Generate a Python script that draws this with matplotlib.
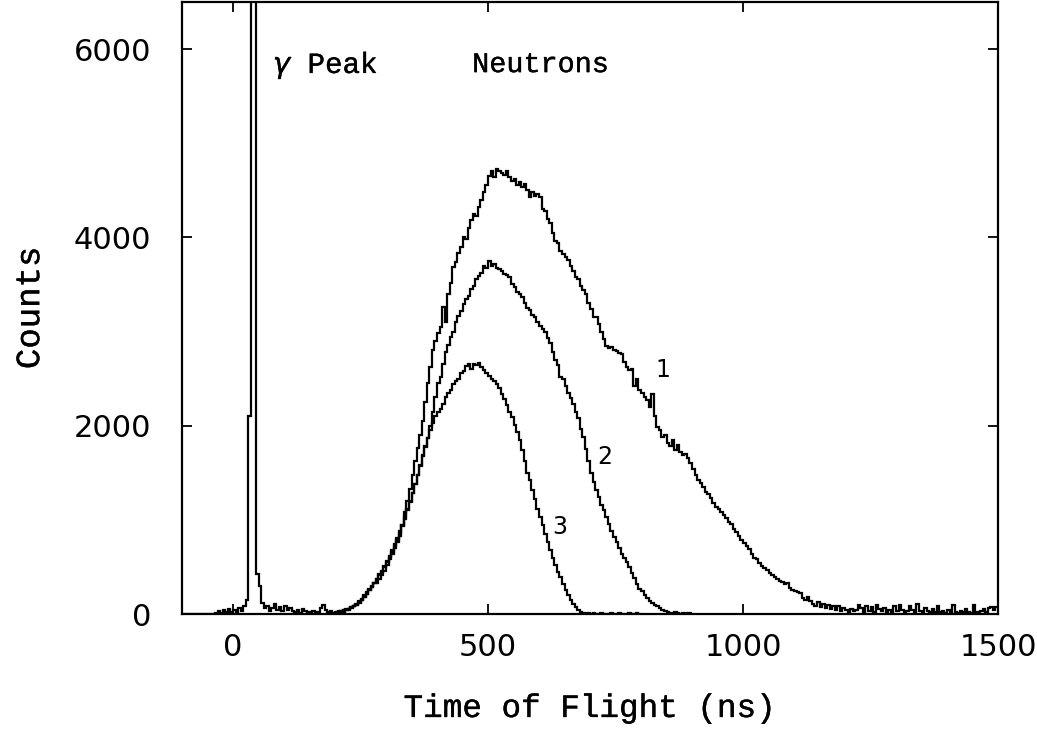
import numpy as np
import matplotlib
matplotlib.use("Agg")
import matplotlib.pyplot as plt
import matplotlib.patheffects as pe

# ---------------- data (counts per 5 ns bin) ----------------
# spectrum 1 : full range -100 .. 1500 ns
t1_start, t1_stop, bin_ns = -100, 1500, 5
counts1 = [
    # -100 .. 0
    0, 0, 0, 0, 0, 0, 0, 0, 0, 0, 0, 0, 0, 15, 30, 10, 45, 20, 50, 25,
    # 0 .. 100  (gamma peak at ~35-45 ns, off scale)
    40, 20, 60, 30, 80, 150, 2100, 20000, 20000, 430, 300, 120, 60, 90, 30, 60, 110, 40, 70, 30,
    # 100 .. 200
    80, 40, 60, 30, 20, 40, 15, 50, 30, 20, 10, 30, 15, 20, 60, 100, 40, 20, 30, 15,
    # 200 .. 300
    20, 30, 25, 40, 50, 45, 70, 90, 110, 140, 160, 200, 230, 270, 300, 330, 330, 370, 410, 460,
    # 300 .. 400
    520, 580, 640, 700, 760, 830, 950, 1080, 1200, 1330, 1480, 1620, 1760, 1900, 2050, 2250, 2450, 2620, 2800, 2900,
    # 400 .. 500
    2980, 3050, 3260, 3100, 3400, 3520, 3690, 3740, 3830, 3900, 4000, 3980, 4100, 4180, 4250, 4230, 4320, 4400, 4480, 4560,
    # 500 .. 600
    4650, 4700, 4640, 4730, 4700, 4680, 4660, 4700, 4640, 4600, 4620, 4560, 4590, 4540, 4570, 4500, 4430, 4480, 4440, 4460,
    # 600 .. 700
    4430, 4300, 4280, 4200, 4150, 4050, 3960, 3940, 3860, 3820, 3790, 3760, 3700, 3640, 3580, 3560, 3480, 3440, 3400, 3300,
    # 700 .. 800
    3240, 3150, 3150, 3080, 3000, 2920, 2850, 2820, 2840, 2800, 2790, 2770, 2760, 2680, 2620, 2590, 2600, 2420, 2500, 2380,
    # 800 .. 900
    2350, 2300, 2270, 2200, 2340, 2100, 1990, 1950, 1880, 1900, 1820, 1780, 1850, 1740, 1800, 1720, 1690, 1700, 1660, 1600,
    # 900 .. 1000
    1540, 1480, 1420, 1390, 1350, 1300, 1270, 1230, 1180, 1140, 1120, 1080, 1050, 1020, 980, 960, 900, 870, 830, 790,
    # 1000 .. 1100
    750, 720, 690, 640, 600, 580, 540, 510, 490, 470, 440, 410, 390, 370, 350, 340, 320, 330, 280, 260,
    # 1100 .. 1200
    240, 230, 220, 170, 150, 180, 140, 110, 90, 130, 70, 110, 60, 100, 50, 80, 40, 90, 30, 60,
    # 1200 .. 1300
    40, 20, 50, 30, 40, 100, 60, 20, 90, 30, 70, 20, 100, 50, 30, 60, 20, 40, 20, 80,
    # 1300 .. 1400
    30, 100, 40, 20, 30, 90, 40, 20, 110, 30, 20, 60, 30, 20, 50, 20, 80, 20, 30, 10,
    # 1400 .. 1500
    40, 20, 100, 20, 10, 30, 20, 50, 20, 10, 100, 20, 10, 30, 50, 20, 60, 70, 40, 70,
]

# spectrum 2 : 200 .. 900 ns
t2_start, t2_stop = 200, 900
counts2 = [
    15, 20, 30, 25, 40, 50, 60, 80, 100, 120, 150, 180, 210, 250, 290, 330, 370, 410, 450, 500,
    550, 610, 660, 720, 790, 860, 930, 1010, 1100, 1190, 1280, 1380, 1480, 1580, 1690, 1780, 1870, 2000, 2150, 2300,
    2450, 2520, 2650, 2780, 2860, 2940, 3000, 3100, 3160, 3220, 3290, 3350, 3380, 3450, 3480, 3560, 3590, 3620, 3700, 3680,
    3750, 3700, 3720, 3680, 3660, 3640, 3610, 3600, 3580, 3500, 3470, 3420, 3400, 3370, 3300, 3250, 3230, 3180, 3150, 3100,
    3060, 3030, 3000, 2930, 2880, 2780, 2700, 2640, 2520, 2500, 2420, 2350, 2290, 2230, 2150, 2080, 1970, 1880, 1750, 1620,
    1500, 1400, 1320, 1240, 1160, 1100, 1030, 960, 880, 820, 760, 700, 640, 590, 550, 500, 440, 380, 320, 270,
    240, 200, 170, 140, 120, 100, 80, 60, 40, 30, 20, 15, 10, 20, 10, 5, 15, 10, 5, 10,
]

# spectrum 3 : 200 .. 800 ns
t3_start, t3_stop = 200, 800
counts3 = [
    20, 25, 30, 40, 45, 55, 70, 85, 100, 125, 150, 180, 210, 250, 290, 330, 370, 420, 460, 510,
    560, 620, 680, 740, 810, 880, 950, 1030, 1110, 1200, 1290, 1380, 1480, 1570, 1680, 1770, 1870, 1950, 2030, 2100,
    2150, 2180, 2230, 2300, 2350, 2380, 2440, 2470, 2500, 2560, 2580, 2630, 2650, 2600, 2660, 2640, 2670, 2620, 2590, 2560,
    2530, 2500, 2470, 2440, 2400, 2340, 2280, 2220, 2150, 2090, 2010, 1930, 1850, 1740, 1620, 1500, 1420, 1320, 1220, 1120,
    1030, 940, 850, 760, 680, 600, 520, 450, 390, 320, 260, 200, 150, 110, 70, 40, 20, 10, 5, 10,
    5, 10, 0, 5, 10, 5, 0, 5, 10, 5, 0, 10, 5, 0, 5, 10, 0, 5, 10, 0,
]

curve_labels = ["1", "2", "3"]
curve_label_xy = [(843, 2590), (729, 1667), (641, 924)]
x_ticks = [0, 500, 1000, 1500]
y_ticks = [0, 2000, 4000, 6000]

# ---------------- figure ----------------
fig = plt.figure(figsize=(10.37, 7.29), dpi=100)
ax = fig.add_axes([182 / 1037, 1 - 614 / 729, (998 - 182) / 1037, (614 - 2) / 729])

for start, stop, vals in [(t1_start, t1_stop, counts1),
                          (t2_start, t2_stop, counts2),
                          (t3_start, t3_stop, counts3)]:
    edges = np.arange(start, stop + bin_ns, bin_ns)
    ax.stairs(vals, edges, color="black", lw=1.6, baseline=None)

ax.set_xlim(-100, 1500)
ax.set_ylim(0, 6500)
ax.set_xticks(x_ticks)
ax.set_yticks(y_ticks)

for s in ax.spines.values():
    s.set_linewidth(1.6)

ax.tick_params(direction="in", length=7, width=1.3, top=True, right=True,
               labelsize=22)
ax.tick_params(axis="x", pad=14)
ax.tick_params(axis="y", pad=22)
for lab in ax.get_xticklabels() + ax.get_yticklabels():
    lab.set_family("DejaVu Sans")

mono = ["Liberation Mono", "DejaVu Sans"]
thick = [pe.withStroke(linewidth=0.25, foreground="black")]
xl = ax.set_xlabel("Time of Flight (ns)", family=mono, fontsize=23.5, labelpad=22)
yl = ax.set_ylabel("Counts", family=mono, fontsize=24.5, labelpad=20)
xl.set_path_effects(thick)
yl.set_path_effects(thick)

t1 = ax.text(78, 5830, r"$\gamma$ Peak", family=mono, fontsize=21, va="center", ha="left")
t2 = ax.text(469, 5830, "Neutrons", family=mono, fontsize=20.5, va="center", ha="left")
t1.set_path_effects(thick)
t2.set_path_effects(thick)

for lab, (lx, ly) in zip(curve_labels, curve_label_xy):
    ax.text(lx, ly, lab, family="DejaVu Sans", fontsize=17, ha="center", va="center")

fig.savefig("out.png", dpi=100)
